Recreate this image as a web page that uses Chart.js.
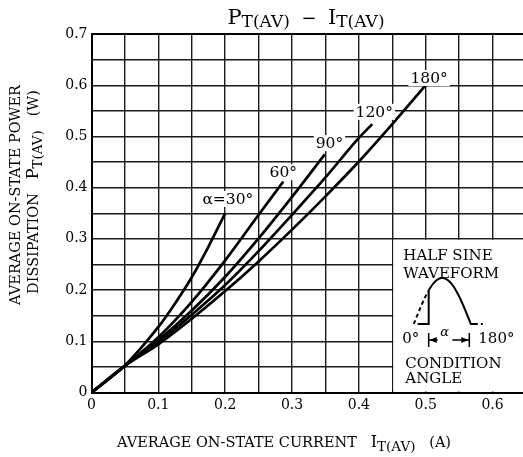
<!DOCTYPE html>
<html lang="en">
<head>
    <meta charset="UTF-8">
    <title>PT(AV) - IT(AV)</title>
    <script src="https://cdn.jsdelivr.net/npm/chart.js"></script>
    <style>
        body { margin: 0; overflow: hidden; background: #fff; }
        #wrap { width: 530px; height: 457px; }
    </style>
</head>
<body>
    <div id="wrap"><canvas id="grafico" width="530" height="457"></canvas></div>
    <script>
        // values (current in A, power in W)
        const i30 = [0, 0.05, 0.1, 0.125, 0.15, 0.175, 0.2];
        const p30 = [0, 0.053, 0.128, 0.174, 0.225, 0.285, 0.35];
        const i60 = [0, 0.05, 0.1, 0.15, 0.2, 0.25, 0.287];
        const p60 = [0, 0.052, 0.108, 0.177, 0.258, 0.347, 0.412];
        const i90 = [0, 0.05, 0.1, 0.15, 0.2, 0.25, 0.3, 0.349];
        const p90 = [0, 0.052, 0.102, 0.16, 0.226, 0.301, 0.382, 0.465];
        const i120 = [0, 0.05, 0.1, 0.15, 0.2, 0.25, 0.3, 0.35, 0.4, 0.42];
        const p120 = [0, 0.052, 0.098, 0.152, 0.21, 0.276, 0.347, 0.42, 0.497, 0.524];
        const i180 = [0, 0.05, 0.1, 0.15, 0.2, 0.25, 0.3, 0.35, 0.4, 0.45, 0.5];
        const p180 = [0, 0.052, 0.094, 0.144, 0.198, 0.256, 0.318, 0.383, 0.451, 0.524, 0.6];
        const curveNames = ['α=30°', '60°', '90°', '120°', '180°'];

        const serif = "'DejaVu Serif', serif";

        function punti(xs, ys) {
            return xs.map((v, k) => ({ x: v, y: ys[k] }));
        }

        function curva(nome, xs, ys) {
            return {
                label: nome,
                data: punti(xs, ys),
                borderColor: '#000',
                borderWidth: 2.7,
                pointRadius: 0,
                cubicInterpolationMode: 'monotone',
                fill: false
            };
        }

        // text with subscripts: pezzi = [[testo, size, dy], ...]
        function testoRicco(ctx, pezzi, x, y, align) {
            let tot = 0;
            pezzi.forEach(p => { ctx.font = p[1] + 'px ' + serif; tot += ctx.measureText(p[0]).width; });
            let cx = align === 'center' ? x - tot / 2 : x;
            ctx.textAlign = 'left';
            ctx.textBaseline = 'alphabetic';
            pezzi.forEach(p => {
                ctx.font = p[1] + 'px ' + serif;
                ctx.fillText(p[0], cx, y + (p[2] || 0));
                cx += ctx.measureText(p[0]).width;
            });
        }

        const etichette = {
            id: 'etichette',
            beforeDatasetsDraw(chart) {
                const { ctx, chartArea: a, scales: { x, y } } = chart;
                ctx.save();
                ctx.fillStyle = '#fff';
                const bx = x.getPixelForValue(0.45), by = y.getPixelForValue(0.3);
                ctx.fillRect(bx + 1, by + 1, a.right - bx, y.getPixelForValue(0) - by - 2);
                // thick top border
                ctx.strokeStyle = '#000';
                ctx.lineWidth = 2;
                ctx.beginPath();
                ctx.moveTo(a.left, a.top);
                ctx.lineTo(a.right, a.top);
                ctx.stroke();
                ctx.restore();
            },
            afterDatasetsDraw(chart) {
                const { ctx, scales: { x, y } } = chart;
                ctx.save();
                ctx.fillStyle = '#000';
                // curve labels
                const pos = [[0.204, 0.378], [0.287, 0.43], [0.356, 0.487], [0.423, 0.548], [0.505, 0.614]];
                ctx.font = '15.5px ' + serif;
                curveNames.forEach((n, k) => {
                    const px = x.getPixelForValue(pos[k][0]), py = y.getPixelForValue(pos[k][1]);
                    const w = ctx.measureText(n).width;
                    ctx.fillStyle = '#fff';
                    ctx.fillRect(px - w / 2 - 2, py - 8, w + 4, 16);
                    ctx.fillStyle = '#000';
                    ctx.textAlign = 'center';
                    ctx.textBaseline = 'middle';
                    ctx.fillText(n, px, py + 1);
                });

                // inset: half sine waveform
                const bx = x.getPixelForValue(0.45), by = y.getPixelForValue(0);
                ctx.textAlign = 'left';
                ctx.textBaseline = 'alphabetic';
                ctx.font = '15px ' + serif;
                ctx.fillText('HALF SINE', bx + 11, by - 132.5);
                ctx.fillText('WAVEFORM', bx + 11, by - 114.5);
                ctx.fillText('CONDITION', bx + 13, by - 24.5);
                ctx.fillText('ANGLE', bx + 13, by - 9.5);
                ctx.fillText('0°', bx + 10, by - 49.5);
                ctx.fillText('180°', bx + 86, by - 49.5);
                ctx.font = 'italic 13px ' + serif;
                ctx.fillText('α', bx + 48, by - 57);

                const x0 = bx + 21.5, x1 = bx + 78.5, base = by - 68.5, amp = 46;
                const sx = t => x0 + (x1 - x0) * t / 180;
                const sy = t => base - amp * Math.sin(t * Math.PI / 180);
                ctx.strokeStyle = '#000';
                ctx.lineWidth = 2;
                ctx.setLineDash([4, 3]);
                ctx.beginPath();
                ctx.moveTo(sx(0), sy(0));
                for (let t = 5; t <= 45; t += 5) ctx.lineTo(sx(t), sy(t));
                ctx.stroke();
                ctx.setLineDash([]);
                ctx.beginPath();
                ctx.moveTo(sx(12), base);
                ctx.lineTo(sx(47), base);
                ctx.lineTo(sx(47), sy(47));
                for (let t = 50; t <= 180; t += 4) ctx.lineTo(sx(t), sy(t));
                ctx.lineTo(sx(180), base);
                ctx.lineTo(sx(180) + 7, base);
                ctx.stroke();
                ctx.beginPath();
                ctx.moveTo(sx(180) + 10, base);
                ctx.lineTo(sx(180) + 12, base);
                ctx.stroke();

                // angle arrows
                const ay = by - 52.5, xa = sx(47), xb = sx(180) - 1.5;
                ctx.lineWidth = 1.5;
                ctx.beginPath();
                ctx.moveTo(xa, ay - 7); ctx.lineTo(xa, ay + 7);
                ctx.moveTo(xb, ay - 7); ctx.lineTo(xb, ay + 7);
                ctx.moveTo(xa, ay); ctx.lineTo(xa + 9, ay);
                ctx.moveTo(xb - 17, ay); ctx.lineTo(xb, ay);
                ctx.stroke();
                ctx.beginPath();
                ctx.moveTo(xa + 1, ay); ctx.lineTo(xa + 8, ay - 3); ctx.lineTo(xa + 8, ay + 3); ctx.closePath();
                ctx.moveTo(xb - 1, ay); ctx.lineTo(xb - 8, ay - 3); ctx.lineTo(xb - 8, ay + 3); ctx.closePath();
                ctx.fill();
                ctx.restore();
            },
            afterDraw(chart) {
                const { ctx } = chart;
                ctx.save();
                ctx.fillStyle = '#000';
                // title
                testoRicco(ctx, [['P', 21], ['T(AV)', 17, 3], ['  −  ', 18], ['I', 21], ['T(AV)', 17, 3]], 306, 24, 'center');
                // x axis title
                testoRicco(ctx, [['AVERAGE ON-STATE CURRENT   ', 14.5], ['I', 16], ['T(AV)', 13.5, 4], ['   (A)', 14.5]], 117, 447, 'left');
                // y axis title, rotated
                ctx.rotate(-Math.PI / 2);
                testoRicco(ctx, [['AVERAGE ON-STATE POWER', 14.5]], -195, 20, 'center');
                testoRicco(ctx, [['DISSIPATION   ', 14.5], ['P', 16], ['T(AV)', 13.5, 4], ['   (W)', 14.5]], -192, 38, 'center');
                ctx.restore();
            }
        };

        function etichettaTick(v) {
            const c = Math.round(v * 100);
            if (c % 10 !== 0) return '';
            return c === 0 ? '0' : (c / 100).toFixed(1);
        }

        const ctx = document.getElementById('grafico').getContext('2d');
        const chart = new Chart(ctx, {
            type: 'line',
            data: {
                datasets: [
                    curva(curveNames[0], i30, p30),
                    curva(curveNames[1], i60, p60),
                    curva(curveNames[2], i90, p90),
                    curva(curveNames[3], i120, p120),
                    curva(curveNames[4], i180, p180)
                ]
            },
            options: {
                responsive: false,
                animation: false,
                layout: { padding: { left: 0, top: 34, right: 4, bottom: 0 } },
                plugins: { legend: { display: false }, tooltip: { enabled: false } },
                scales: {
                    x: {
                        type: 'linear',
                        min: 0,
                        max: 0.65,
                        ticks: {
                            stepSize: 0.05,
                            autoSkip: false,
                            maxRotation: 0,
                            padding: 4,
                            color: '#000',
                            font: { family: serif, size: 14 },
                            callback: etichettaTick
                        },
                        grid: { color: '#1a1a1a', lineWidth: 1.4, drawTicks: false },
                        border: { color: '#000', width: 2 },
                        afterFit: s => { s.height = 64.5; }
                    },
                    y: {
                        min: 0,
                        max: 0.7,
                        ticks: {
                            stepSize: 0.05,
                            autoSkip: false,
                            padding: 4,
                            color: '#000',
                            font: { family: serif, size: 14 },
                            callback: etichettaTick
                        },
                        grid: { color: '#1a1a1a', lineWidth: 1.4, drawTicks: false },
                        border: { color: '#000', width: 2 },
                        afterFit: s => { s.width = 91.5; }
                    }
                }
            },
            plugins: [etichette]
        });
    </script>
</body>
</html>
